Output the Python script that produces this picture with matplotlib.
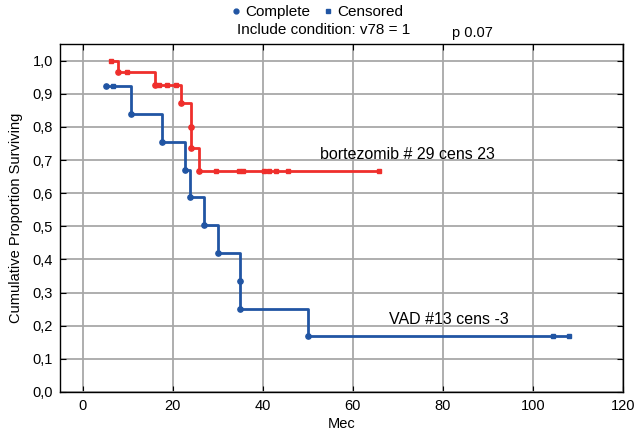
import numpy as np
import matplotlib
matplotlib.use("Agg")
import matplotlib.pyplot as plt
from matplotlib.lines import Line2D

plt.rcParams['font.family'] = ['Liberation Sans', 'DejaVu Sans']

RED = '#ef2f2c'
BLUE = '#2155a3'

# bortezomib group: event times, survival after each event, censored times
bort_event_t = [7.9, 16.0, 21.9, 24.0, 24.0, 25.9]
bort_event_s = [0.966, 0.925, 0.872, 0.801, 0.736, 0.667]
bort_cens_t = [6.4, 9.9, 16.9, 18.8, 20.7, 29.6, 34.7, 35.7, 40.3, 41.4, 42.9, 45.5, 65.8]

# VAD group
vad_event_t = [5.3, 10.7, 17.7, 22.8, 23.8, 27.0, 30.0, 35.0, 35.0, 50.0]
vad_event_s = [0.923, 0.839, 0.755, 0.671, 0.587, 0.503, 0.419, 0.335, 0.251, 0.168]
vad_cens_t = [6.7, 104.5, 108.0]

x_ticks = [0, 20, 40, 60, 80, 100, 120]
y_ticks = [0.0, 0.1, 0.2, 0.3, 0.4, 0.5, 0.6, 0.7, 0.8, 0.9, 1.0]
y_labels = ['%.1f' % v for v in y_ticks]
y_labels = [s.replace('.', ',') for s in y_labels]


def surv_at(t, ev_t, ev_s):
    s = 1.0
    for et, es in zip(ev_t, ev_s):
        if et <= t:
            s = es
    return s


def curve(ev_t, ev_s, cens_t):
    pts = [(t, s) for t, s in zip(ev_t, ev_s)]
    pts += [(t, surv_at(t, ev_t, ev_s)) for t in cens_t]
    pts.sort(key=lambda p: (p[0], -p[1]))
    return [p[0] for p in pts], [p[1] for p in pts]


fig = plt.figure(figsize=(6.35, 4.36), dpi=100)
ax = fig.add_axes([0.0945, 0.101, 0.887, 0.798])

for ev_t, ev_s, cens_t, col in [(bort_event_t, bort_event_s, bort_cens_t, RED),
                                 (vad_event_t, vad_event_s, vad_cens_t, BLUE)]:
    xs, ys = curve(ev_t, ev_s, cens_t)
    ax.step(xs, ys, where='post', color=col, lw=2.0, zorder=3)
    ax.plot(ev_t, ev_s, 'o', color=col, ms=3.8, zorder=4)
    cs = [surv_at(t, ev_t, ev_s) for t in cens_t]
    ax.plot(cens_t, cs, 's', color=col, ms=2.8, zorder=4)

ax.set_xlim(-5, 120)
ax.set_ylim(0, 1.05)
ax.set_xticks(x_ticks)
ax.set_yticks(y_ticks)
ax.set_yticklabels(y_labels)
ax.grid(True, color='#a8a8a8', lw=1.3)
ax.set_axisbelow(True)
ax.tick_params(direction='in', length=4, labelsize=10.5, top=True, right=True,
               labeltop=False, labelright=False, pad=5)
for sp in ax.spines.values():
    sp.set_linewidth(1.0)

ax.set_xlabel('Mec', fontsize=10.5, labelpad=3)
ax.set_ylabel('Cumulative Proportion Surviving', fontsize=10.5, labelpad=7)

ax.text(52.8, 0.716, 'bortezomib # 29 cens 23', fontsize=11.5, va='center')
ax.text(68.0, 0.22, 'VAD #13 cens -3', fontsize=11.5, va='center')

handles = [Line2D([], [], ls='none', marker='o', color=BLUE, ms=3.5),
           Line2D([], [], ls='none', marker='s', color=BLUE, ms=3)]
fig.legend(handles, ['Complete', 'Censored'], loc='center', bbox_to_anchor=(0.5, 0.972),
           ncol=2, frameon=False, fontsize=11, handletextpad=0.3, columnspacing=0.9,
           handlelength=0.6)
fig.text(0.509, 0.931, 'Include condition: v78 = 1', ha='center', va='center', fontsize=11)
fig.text(0.712, 0.924, 'p 0.07', ha='left', va='center', fontsize=10.5)

fig.savefig('out.png', dpi=100)
